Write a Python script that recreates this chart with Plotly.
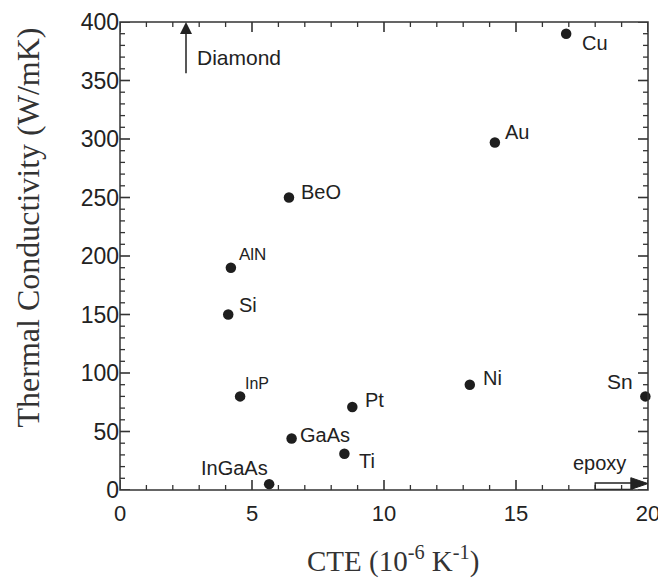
import plotly.graph_objects as go

# Data
materials = ["Cu", "Au", "BeO", "AlN", "Si", "InP", "GaAs", "InGaAs", "Pt", "Ti", "Ni", "Sn"]
cte = [16.9, 14.2, 6.4, 4.2, 4.1, 4.55, 6.5, 5.65, 8.8, 8.5, 13.25, 19.9]
conductivity = [390, 297, 250, 190, 150, 80, 44, 5, 71, 31, 90, 80]

# label placement (offset in data units) and font size
label_dx = [0.52, 0.32, 0.38, 0.23, 0.32, 0.12, 0.25, -1.3, 0.42, 0.47, 0.42, -0.95]
label_dy = [-8, 9, 5, 11, 8, 11, 3, 14, 6, -6.5, 6, 13]
label_anchor = ["left", "left", "left", "left", "left", "left", "left", "center", "left", "left", "left", "center"]
label_size = [20, 20, 20, 17, 20, 16, 20, 20, 20, 20, 20, 21]

x_ticks = [0, 5, 10, 15, 20]
y_ticks = [0, 50, 100, 150, 200, 250, 300, 350, 400]
x_minor = [v for v in range(0, 21) if v % 5 != 0]
y_minor = [v for v in range(0, 401, 10) if v % 50 != 0]
X_RANGE = [0, 20]
Y_RANGE = [0, 400]

# layout constants (page is offset by the default 8px body margin)
FIG_W, FIG_H = 658, 578
M_L, M_R, M_T, M_B = 112, 18, 14, 96
PLOT_W = FIG_W - M_L - M_R
PLOT_H = FIG_H - M_T - M_B
MAJOR_LEN, MINOR_LEN = 10, 5
TICK_COLOR = "#333"

fig = go.Figure()

# inside ticks on all four sides, built from the tick arrays
def tick_segments(xt, yt, length):
    dy = length / PLOT_H * (Y_RANGE[1] - Y_RANGE[0])
    dx = length / PLOT_W * (X_RANGE[1] - X_RANGE[0])
    xs, ys = [], []
    for v in xt:
        xs += [v, v, None, v, v, None]
        ys += [Y_RANGE[0], Y_RANGE[0] + dy, None, Y_RANGE[1] - dy, Y_RANGE[1], None]
    for v in yt:
        xs += [X_RANGE[0], X_RANGE[0] + dx, None, X_RANGE[1] - dx, X_RANGE[1], None]
        ys += [v, v, None, v, v, None]
    return xs, ys

for xt, yt, ln, lw in ((x_ticks, y_ticks, MAJOR_LEN, 1.6), (x_minor, y_minor, MINOR_LEN, 1.3)):
    tx, ty = tick_segments(xt, yt, ln)
    fig.add_trace(go.Scatter(x=tx, y=ty, mode="lines", line=dict(color=TICK_COLOR, width=lw),
                             hoverinfo="skip", showlegend=False, cliponaxis=False, connectgaps=False))

fig.add_trace(go.Scatter(
    x=cte, y=conductivity, mode="markers",
    marker=dict(size=10.5, color="#1e1e1e"),
    cliponaxis=False, showlegend=False,
))

for m, x, y, dx, dy, anc, fs in zip(materials, cte, conductivity, label_dx, label_dy, label_anchor, label_size):
    fig.add_annotation(x=x + dx, y=y + dy, text=m, showarrow=False,
                       xanchor=anc, yanchor="middle",
                       font=dict(family="Liberation Sans, Arial", size=fs, color="#222"))

# Diamond arrow
fig.add_annotation(x=2.5, y=400, ax=2.5, ay=355, axref="x", ayref="y", xref="x", yref="y",
                   text="", showarrow=True, arrowhead=2, arrowsize=1.6, arrowwidth=1.5,
                   arrowcolor="#222")
fig.add_annotation(x=2.85, y=370, text="Diamond", showarrow=False, xanchor="left",
                   font=dict(family="Liberation Sans, Arial", size=21, color="#222"))

# epoxy arrow
fig.add_shape(type="rect", x0=18.0, x1=19.4, y0=0.5, y1=6, xref="x", yref="y",
              line=dict(color="#222", width=1.3), fillcolor="rgba(0,0,0,0)")
fig.add_shape(type="path", path="M 19.35 0.5 L 19.35 10.5 L 20 5.5 Z", xref="x", yref="y",
              line=dict(color="#222", width=1), fillcolor="#222")
fig.add_annotation(x=18.15, y=23, text="epoxy", showarrow=False, xanchor="center",
                   font=dict(family="Liberation Sans, Arial", size=20, color="#222"))

# plot frame
fig.add_shape(type="rect", x0=0, x1=1, y0=0, y1=1, xref="paper", yref="paper",
              line=dict(color=TICK_COLOR, width=1.5), fillcolor="rgba(0,0,0,0)", layer="above")

# axis titles
fig.add_annotation(x=0.517, y=0, xref="paper", yref="paper", yshift=-69,
                   xanchor="center", yanchor="middle", showarrow=False,
                   text="CTE (10<sup>-6</sup> K<sup>-1</sup>)",
                   font=dict(family="Liberation Serif, Times New Roman", size=29, color="#333"))
fig.add_annotation(x=0, y=0.561, xref="paper", yref="paper", xshift=-92,
                   xanchor="center", yanchor="middle", showarrow=False, textangle=-90,
                   text="Thermal Conductivity (W/mK)",
                   font=dict(family="Liberation Serif, Times New Roman", size=32, color="#333"))

fig.update_xaxes(range=X_RANGE, tickmode="array", tickvals=x_ticks, ticktext=[str(v) for v in x_ticks],
                 showgrid=False, zeroline=False, showline=False, ticks="",
                 ticklabelstandoff=8,
                 tickfont=dict(family="Liberation Sans, Arial", size=22, color="#222"))
fig.update_yaxes(range=Y_RANGE, tickmode="array", tickvals=y_ticks, ticktext=[str(v) for v in y_ticks],
                 showgrid=False, zeroline=False, showline=False, ticks="",
                 tickfont=dict(family="Liberation Sans, Arial", size=23, color="#222"))

fig.update_layout(
    width=FIG_W, height=FIG_H,
    margin=dict(l=M_L, r=M_R, t=M_T, b=M_B, autoexpand=False),
    plot_bgcolor="rgba(0,0,0,0)", paper_bgcolor="white",
)

fig.write_html("out.html")
